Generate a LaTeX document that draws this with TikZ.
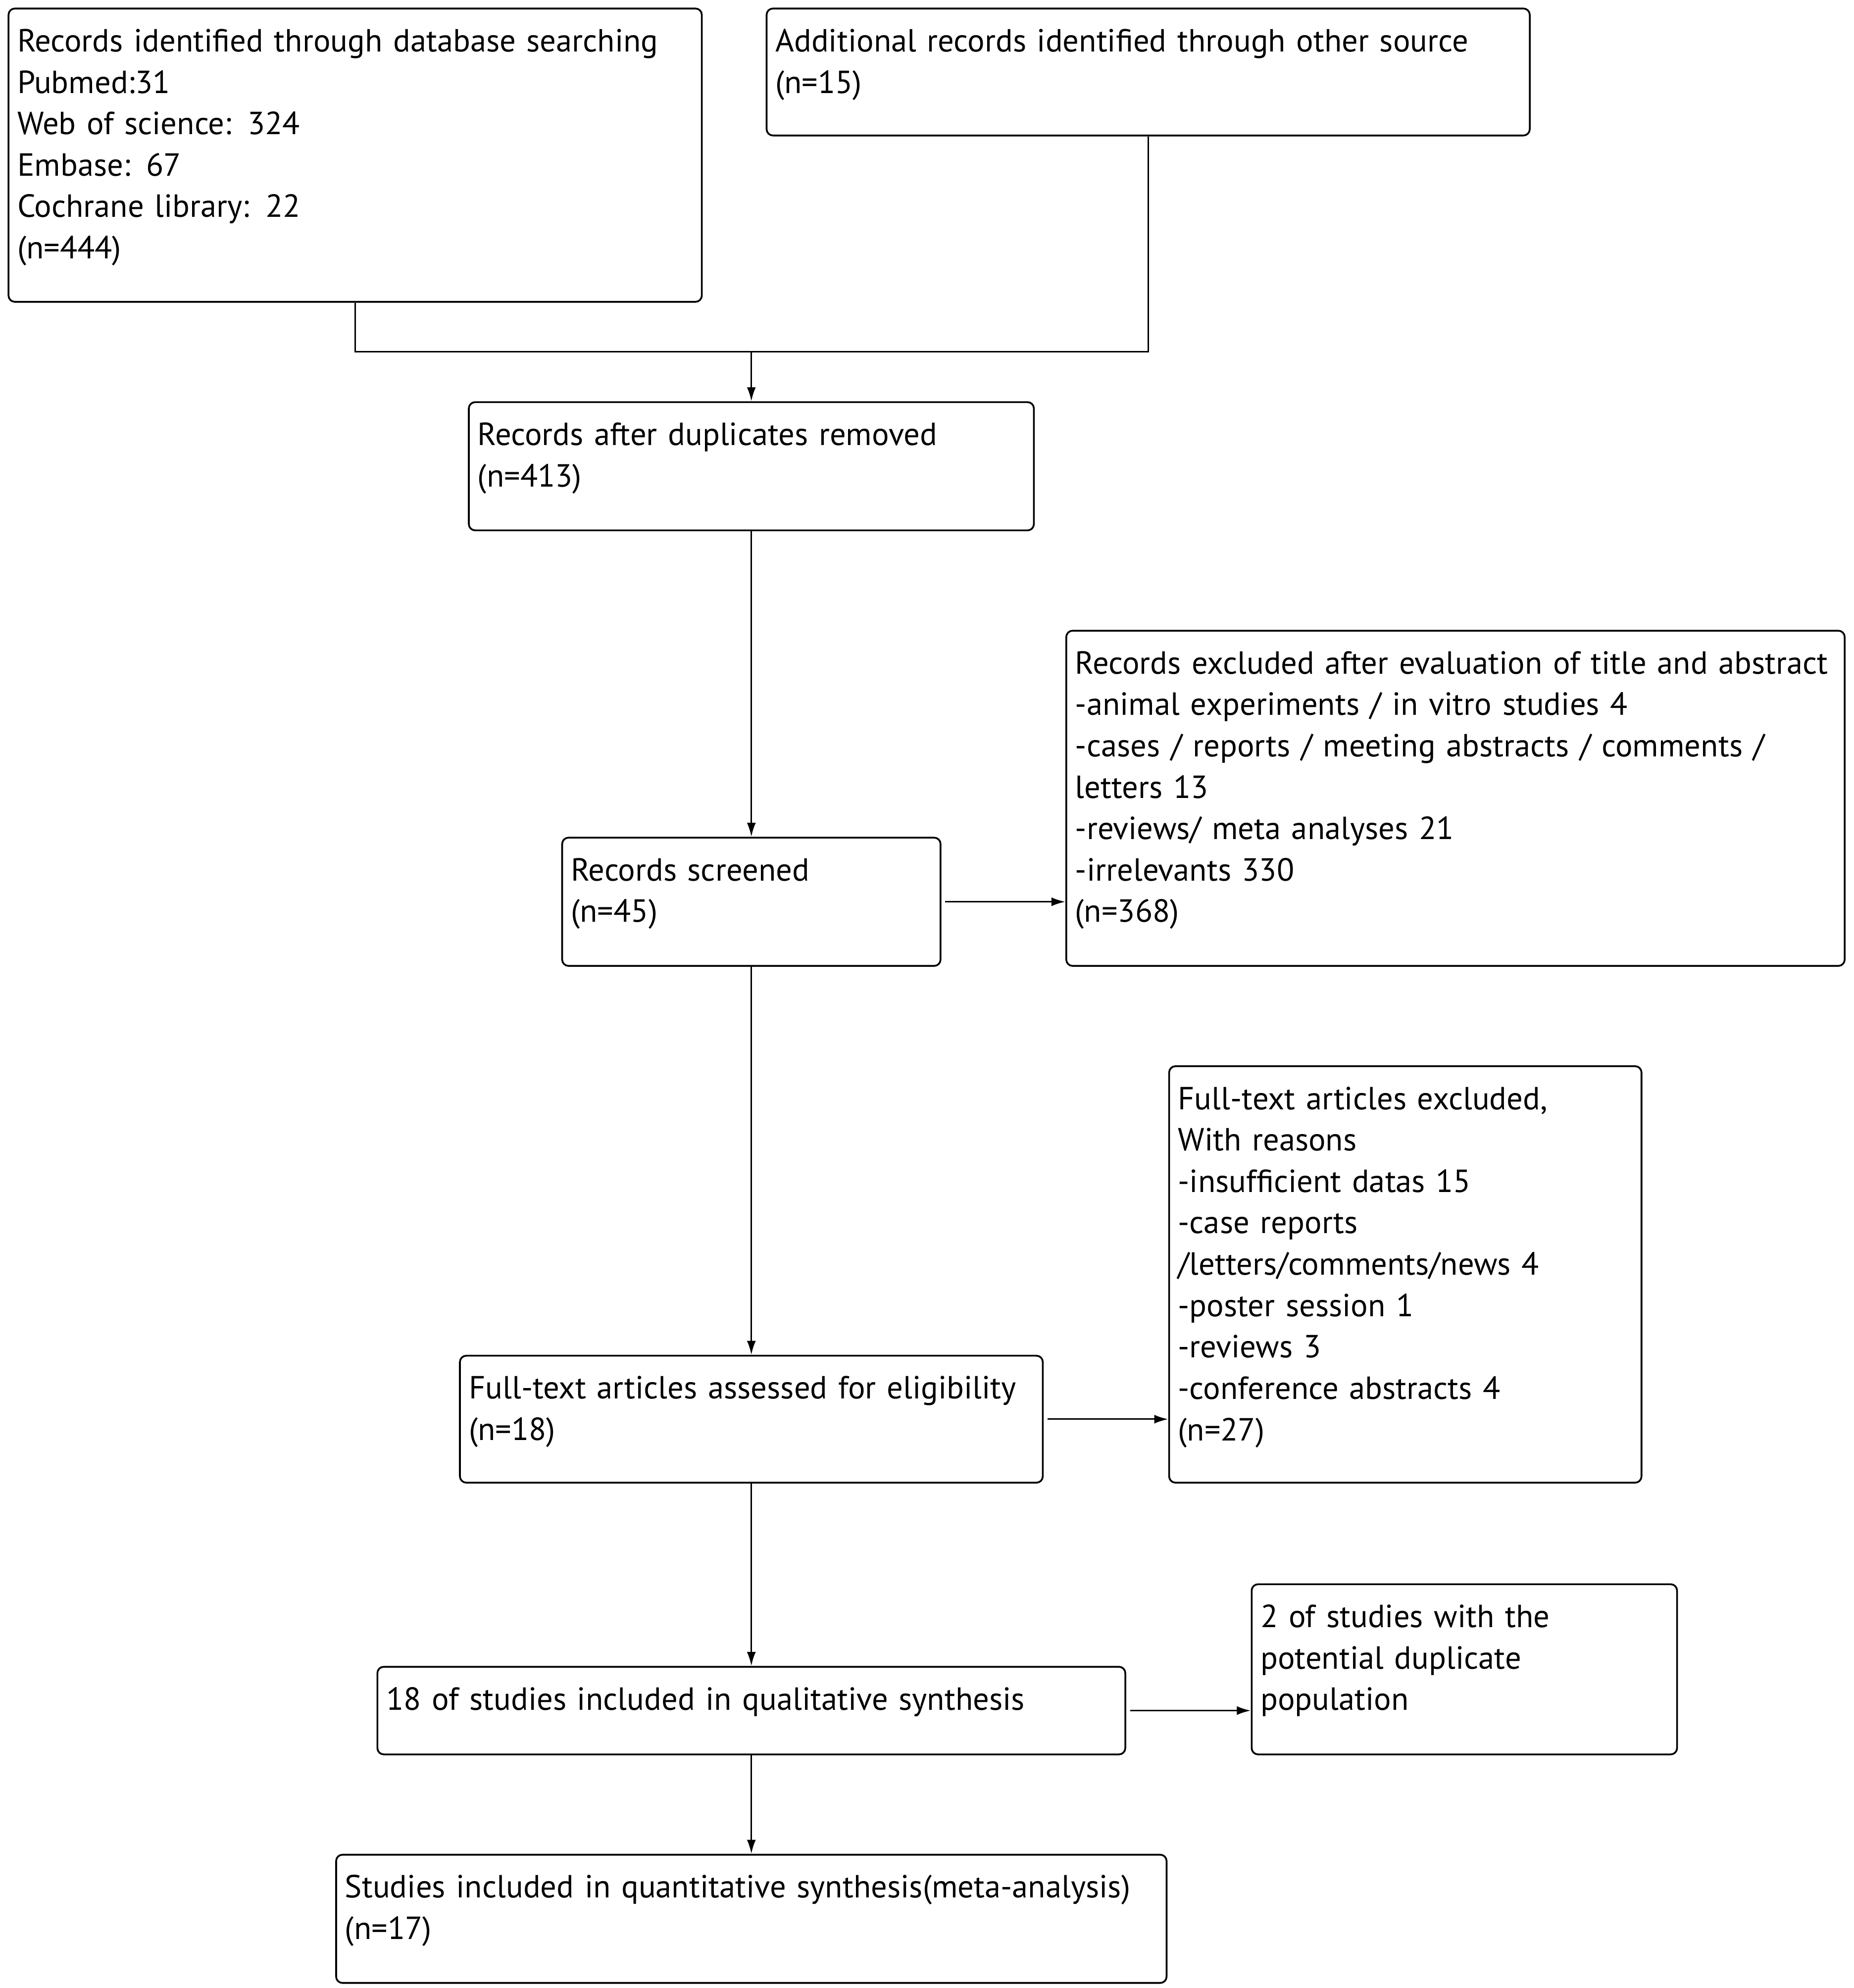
\documentclass[tikz,border=0pt]{standalone}
\usepackage{fontspec}
\setmainfont{PT Sans}
\usetikzlibrary{arrows.meta}

\tikzset{
  box/.style={
    draw,
    line width=0.7pt,
    rounded corners=2.5pt,
    anchor=north west,
    align=left,
    inner xsep=3.5pt,
    inner ysep=0pt,
    text height=17pt,
    font=\fontsize{12.6}{16.3}\selectfont,
  },
  link/.style={line width=0.6pt},
  arr/.style={link, -{Latex[length=5.5pt,width=3.5pt]}},
  side/.style={arr, shorten <=1.5pt},
}

\begin{document}
\begin{tikzpicture}[x=0.5pt, y=-0.5pt]
\fill[white] (0,0) rectangle (1460,1565.7);
\useasboundingbox (0,0) rectangle (1460,1565.7);

\node[box, text width=266pt, text depth=98.5pt] (search) at (6,6)
  {Records identified through database searching\\
   Pubmed:31\\
   Web of science: 324\\
   Embase: 67\\
   Cochrane library: 22\\
   (n=444)};
\node[box, text width=293.5pt, text depth=33pt] (other) at (603,6)
  {Additional records identified through other source\\
   (n=15)};
\node[box, text width=215.5pt, text depth=33.5pt] (dedup) at (368.5,316)
  {Records after duplicates removed\\
   (n=413)};
\node[box, text width=142pt, text depth=33.5pt] (screened) at (442,659)
  {Records screened\\
   (n=45)};
\node[box, text width=299.5pt, text depth=115pt] (excluded) at (839,496)
  {Records excluded after evaluation of title and abstract\\
   -animal experiments / in vitro studies 4\\
   -cases / reports / meeting abstracts / comments /\\
   letters 13\\
   -reviews/ meta analyses 21\\
   -irrelevants 330\\
   (n=368)};
\node[box, text width=222.5pt, text depth=33pt] (fulltext) at (361.5,1067)
  {Full-text articles assessed for eligibility\\
   (n=18)};
\node[box, text width=179pt, text depth=147pt] (ftexcl) at (920,839)
  {Full-text articles excluded,\\
   With reasons\\
   -insufficient datas 15\\
   -case reports\\
   /letters/comments/news 4\\
   -poster session 1\\
   -reviews 3\\
   -conference abstracts 4\\
   (n=27)};
\node[box, text width=287.5pt, text depth=17.5pt] (quali) at (296.5,1312)
  {18 of studies included in qualitative synthesis};
\node[box, text width=160.5pt, text depth=50pt] (dupl) at (985,1247)
  {2 of studies with the\\
   potential duplicate\\
   population};
\node[box, text width=320pt, text depth=33.5pt] (quanti) at (264,1460)
  {Studies included in quantitative synthesis(meta-analysis)\\
   (n=17)};

\path (dedup.north) ++(0,-39) coordinate (join);
\draw[link] (search.south) |- (join) -| (other.south);
\draw[arr] (join) -- (dedup.north);
\draw[arr] (dedup.south) -- (screened.north);
\draw[side] (screened.east) -- (screened.east -| excluded.west);
\draw[arr] (screened.south) -- (fulltext.north);
\draw[side] (fulltext.east) -- (fulltext.east -| ftexcl.west);
\draw[arr] (fulltext.south) -- (quali.north);
\draw[side] (quali.east) -- (quali.east -| dupl.west);
\draw[arr] (quali.south) -- (quanti.north);
\end{tikzpicture}
\end{document}
